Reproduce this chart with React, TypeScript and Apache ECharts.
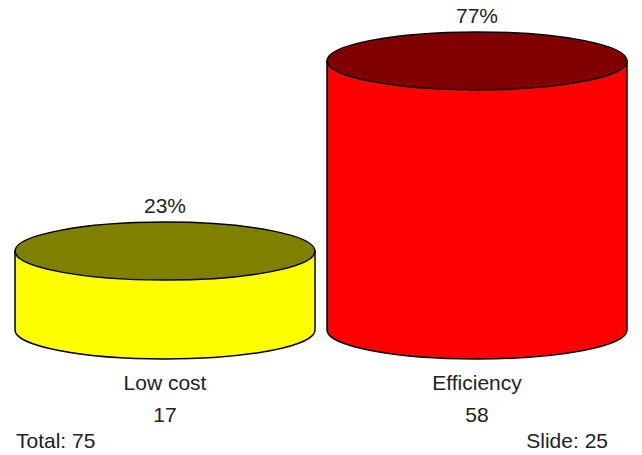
import React, { useEffect, useRef } from "react";
import * as echarts from "echarts";

const categories = ["Low cost", "Efficiency"];
const values = [17, 58];
const percentLabels = ["23%", "77%"];
const sideColors = ["#FFFF00", "#FF0000"];
const topColors = ["#808000", "#800000"];
const totalLabel = "Total: 75";
const slideLabel = "Slide: 25";

const FONT = "'Liberation Sans', Arial, sans-serif";
const TEXT_COLOR = "#222222";
const FS = 21;

export default function App() {
  const ref = useRef<HTMLDivElement>(null);
  useEffect(() => {
    if (!ref.current) return;
    const chart = echarts.init(ref.current, undefined, { renderer: "svg" });
    const option: any = {
      animation: false,
      grid: { left: 9, right: 9, top: 51.6, bottom: 125, containLabel: false },
      xAxis: {
        type: "category",
        data: categories,
        axisLine: { show: false },
        axisTick: { show: false },
        axisLabel: {
          margin: 36,
          fontFamily: FONT,
          fontSize: FS,
          color: TEXT_COLOR,
          lineHeight: 32,
          formatter: (v: string, i: number) => `${v}\n${values[i]}`,
        },
      },
      yAxis: { type: "value", min: 0, max: 60, show: false, splitLine: { show: false } },
      series: [
        {
          type: "custom",
          data: values.map((v, i) => [i, v]),
          renderItem: (params: any, api: any) => {
            const idx = api.value(0);
            const val = api.value(1);
            const top = api.coord([idx, val]);
            const base = api.coord([idx, 0]);
            const band = api.size([1, 0])[0];
            const rx = (band * 300) / 312 / 2;
            const ry = 29;
            const cx = top[0];
            const x0 = cx - rx;
            const x1 = cx + rx;
            const yt = top[1];
            const yb = base[1];
            const d = `M ${x0} ${yt} L ${x0} ${yb} A ${rx} ${ry} 0 0 0 ${x1} ${yb} L ${x1} ${yt} Z`;
            return {
              type: "group",
              children: [
                {
                  type: "path",
                  shape: { pathData: d },
                  style: { fill: sideColors[idx], stroke: "#000", lineWidth: 1.5 },
                },
                {
                  type: "ellipse",
                  shape: { cx, cy: yt, rx, ry },
                  style: { fill: topColors[idx], stroke: "#000", lineWidth: 1.5 },
                },
                {
                  type: "text",
                  x: cx,
                  y: yt - ry - 6,
                  style: {
                    text: percentLabels[idx],
                    fontFamily: FONT,
                    fontSize: FS,
                    fill: TEXT_COLOR,
                    align: "center",
                    verticalAlign: "bottom",
                  },
                },
              ],
            };
          },
        },
      ],
      graphic: [
        {
          type: "text",
          left: 16,
          top: 430,
          style: { text: totalLabel, fontFamily: FONT, fontSize: FS, fill: TEXT_COLOR },
        },
        {
          type: "text",
          right: 34,
          top: 430,
          style: { text: slideLabel, fontFamily: FONT, fontSize: FS, fill: TEXT_COLOR },
        },
      ],
    };
    chart.setOption(option);
    return () => chart.dispose();
  }, []);
  return <div ref={ref} style={{ width: 642, height: 455, position: "absolute", left: 0, top: 0 }} />;
}
